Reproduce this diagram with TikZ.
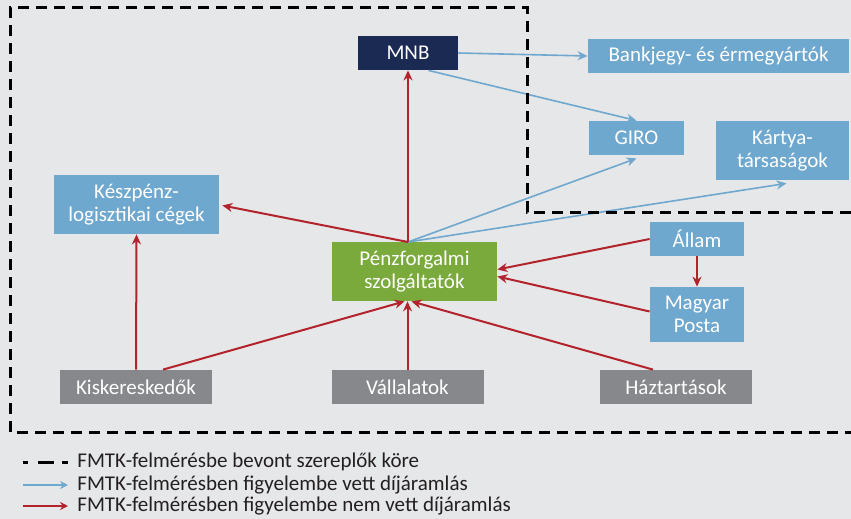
\documentclass[tikz,border=0pt]{standalone}
\usepackage{fontspec}
\setmainfont{Carlito}
\usepackage{xcolor}
\usepackage{tikz}
\usetikzlibrary{
  positioning,
  calc,
  arrows.meta
}
\definecolor{bgGrey}{HTML}{E6E7E9}
\definecolor{mnbBlue}{HTML}{1B2A52}
\definecolor{boxBlue}{HTML}{6FA8CF}
\definecolor{boxGreen}{HTML}{7BAA3C}
\definecolor{boxGrey}{HTML}{87888C}
\definecolor{flowRed}{HTML}{B2232B}
\definecolor{flowBlue}{HTML}{6FA8CF}
\definecolor{legendText}{HTML}{231F20}

\begin{document}
\begin{tikzpicture}[x=0.5pt,y=-0.5pt,
  box/.style={text=white,inner sep=0pt,align=center,font=\fontsize{10.5}{11.5}\selectfont},
  bluebox/.style={box,fill=boxBlue},
  greybox/.style={box,fill=boxGrey,minimum width=76pt,minimum height=17pt},
  redflow/.style={flowRed,line width=1pt,-{Stealth[length=5pt,width=4.5pt]}},
  blueflow/.style={flowBlue,line width=0.8pt,-{Stealth[length=5pt,width=4.5pt]}},
  scope line/.style={line width=1.5pt,dash pattern=on 5.5pt off 3.5pt}]

  \fill[bgGrey] (0,0) rectangle (851,519);
  \useasboundingbox (0,0) rectangle (851,519);

  % actors
  \node[box,fill=mnbBlue,minimum width=50pt,minimum height=17pt] (mnb) at (408,53) {MNB};
  \node[bluebox,minimum width=130.5pt,minimum height=17pt] (bank) at (718.5,56) {Bankjegy- és érmegyártók};
  \node[bluebox,minimum width=47.5pt,minimum height=17pt] (giro) at (636.5,138) {GIRO};
  \node[bluebox,minimum width=66.5pt,minimum height=29.5pt] (kartya) at (782.5,150.5) {Kártya-\\társaságok};
  \node[bluebox,minimum width=82.5pt,minimum height=29.5pt] (kesz) at (136.5,204.5) {Készpénz-\\logisztikai cégek};
  \node[box,fill=boxGreen,minimum width=82.5pt,minimum height=29.5pt] (penz) at (414.5,271.5) {Pénzforgalmi\\szolgáltatók};
  \node[bluebox,minimum width=47pt,minimum height=17pt] (allam) at (697,239) {Állam};
  \node[bluebox,minimum width=47pt,minimum height=27.5pt] (posta) at (697,314.5) {Magyar\\Posta};

  \foreach \name/\x/\txt in {kisk/136/Kiskereskedők,vall/407.5/Vállalatok,haz/676/Háztartások}
    \node[greybox] (\name) at (\x,387) {\txt};

  \coordinate (penzTop) at (408,242);

  % flows
  \draw[blueflow] (mnb.east) -- (bank.west);
  \draw[blueflow] ($(mnb.south east)+(-30,0)$) -- (giro.north);
  \draw[blueflow] (penzTop) -- ($(giro.south)+(0,3)$);
  \draw[blueflow] (penzTop) -- ($(kartya.south)+(4,3)$);

  \draw[redflow] (penzTop) -- (mnb.south -| penzTop);
  \draw[redflow] (penzTop) -- ($(kesz.east)+(3,1)$);
  \draw[redflow] (kisk.north) -- (kesz.south);
  \draw[redflow] ($(kisk.north)+(27,0)$) -- ($(penz.south)+(-10,0)$);
  \draw[redflow] (vall.north) -- (penz.south -| vall.north);
  \draw[redflow] ($(haz.north)+(-23,0)$) -- ($(penz.south)+(-3,0)$);
  \draw[redflow] (allam.west) -- ($(penz.east)+(0,-2)$);
  \draw[redflow] ($(posta.west)+(0,-3)$) -- ($(penz.east)+(0,5)$);
  \draw[redflow] (allam.south) -- (posta.north);

  % survey scope
  \draw[scope line] (851,212) -- (527,212) -- (527,8) -- (10,8) -- (10,432) -- (851,432);

  % legend
  \draw[line width=1.5pt,dash pattern=on 2.5pt off 5pt on 8pt off 4pt on 3pt off 5pt] (23,462) -- (68,462);
  \draw[blueflow,line width=1pt,-{Stealth[length=4pt,width=4pt]}] (23,485) -- (68,485);
  \draw[redflow,-{Stealth[length=4pt,width=4pt]}] (23,506) -- (68,506);
  \foreach \y/\txt in {462/FMTK-felmérésbe bevont szereplők köre,
                       485/FMTK-felmérésben figyelembe vett díjáramlás,
                       506/FMTK-felmérésben figyelembe nem vett díjáramlás}
    \node[anchor=west,inner sep=0pt,text=legendText,font=\fontsize{10.5}{11.5}\selectfont] at (77,\y) {\txt};
\end{tikzpicture}
\end{document}
